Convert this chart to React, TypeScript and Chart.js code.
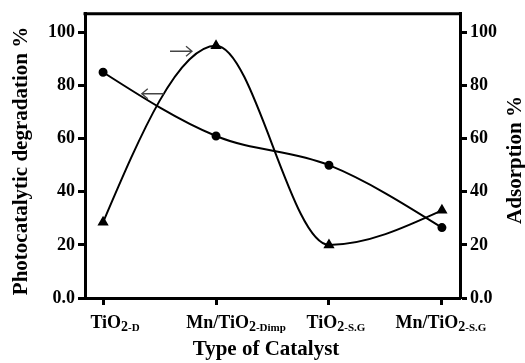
import React, { useEffect, useRef } from "react";
import { Chart, registerables } from "chart.js";

Chart.register(...registerables);

// ---- data ----
const categoryMain = ["TiO", "Mn/TiO", "TiO", "Mn/TiO"];
const categorySub = ["2", "2", "2", "2"];
const categorySuffix = ["-D", "-Dimp", "-S.G", "-S.G"];
const degradation = [85, 61, 50, 26.5];
const adsorption = [28.5, 95, 20, 33];
const yTicks = [0, 20, 40, 60, 80, 100];
const yTitleLeft = "Photocatalytic degradation %";
const yTitleRight = "Adsorption %";
const xTitle = "Type of Catalyst";
// arrow annotations (category units, value units)
const arrowRight = { x: 0.69, y: 92.9 };
const arrowLeft = { x: 0.44, y: 76.9 };

const FONT = "'Liberation Serif', 'Times New Roman', serif";

// Smooth spline: monotone tangents inside, natural-like end tangents
const splinePlugin = {
  id: "spline",
  beforeDatasetsDraw(chart: any) {
    chart.data.datasets.forEach((_: any, di: number) => {
      const meta = chart.getDatasetMeta(di);
      const pts = meta.data;
      const n = pts.length;
      if (n < 3) return;
      const d: number[] = [];
      for (let k = 0; k < n - 1; k++) {
        d.push((pts[k + 1].y - pts[k].y) / (pts[k + 1].x - pts[k].x));
      }
      const m: number[] = new Array(n).fill(0);
      for (let k = 1; k < n - 1; k++) {
        if (d[k - 1] * d[k] <= 0) m[k] = 0;
        else {
          m[k] = (d[k - 1] + d[k]) / 2;
          const a = m[k] / d[k - 1];
          const b = m[k] / d[k];
          const s = a * a + b * b;
          if (s > 9) m[k] *= 3 / Math.sqrt(s);
        }
      }
      m[0] = 1.5 * d[0] - 0.5 * m[1];
      if (m[0] * d[0] < 0) m[0] = 0;
      m[n - 1] = 1.5 * d[n - 2] - 0.5 * m[n - 2];
      if (m[n - 1] * d[n - 2] < 0) m[n - 1] = 0;
      for (let k = 0; k < n; k++) {
        const p = pts[k];
        if (k > 0) {
          const h = (p.x - pts[k - 1].x) / 3;
          p.cp1x = p.x - h;
          p.cp1y = p.y - m[k] * h;
        } else {
          p.cp1x = p.x;
          p.cp1y = p.y;
        }
        if (k < n - 1) {
          const h = (pts[k + 1].x - p.x) / 3;
          p.cp2x = p.x + h;
          p.cp2y = p.y + m[k] * h;
        } else {
          p.cp2x = p.x;
          p.cp2y = p.y;
        }
      }
      if (meta.dataset) meta.dataset._pointsUpdated = true;
    });
  },
};

const decorPlugin = {
  id: "decor",
  afterDraw(chart: any) {
    const ctx = chart.ctx as CanvasRenderingContext2D;
    const { chartArea } = chart;
    const xs = chart.scales.x;
    const ys = chart.scales.y;
    ctx.save();
    // top border
    ctx.strokeStyle = "#000";
    ctx.lineWidth = 3;
    ctx.beginPath();
    ctx.moveTo(chartArea.left - 1.5, chartArea.top);
    ctx.lineTo(chartArea.right + 1.5, chartArea.top);
    ctx.stroke();

    // x category labels with subscripts
    const offsets = [12, 20, 7, -1];
    ctx.fillStyle = "#000";
    ctx.textBaseline = "alphabetic";
    ctx.textAlign = "left";
    categoryMain.forEach((mTxt, i) => {
      const fMain = `bold 18px ${FONT}`;
      const fSub = `bold 14px ${FONT}`;
      const fSuf = `bold 11px ${FONT}`;
      ctx.font = fMain;
      const w1 = ctx.measureText(mTxt).width;
      ctx.font = fSub;
      const w2 = ctx.measureText(categorySub[i]).width;
      ctx.font = fSuf;
      const w3 = ctx.measureText(categorySuffix[i]).width;
      const total = w1 + w2 + w3;
      const cx = xs.getPixelForValue(i) + offsets[i];
      let x = cx - total / 2;
      const base = 328;
      ctx.font = fMain;
      ctx.fillText(mTxt, x, base);
      x += w1;
      ctx.font = fSub;
      ctx.fillText(categorySub[i], x, base + 3);
      x += w2;
      ctx.font = fSuf;
      ctx.fillText(categorySuffix[i], x, base + 3);
    });

    // axis titles
    ctx.font = `bold 21px ${FONT}`;
    ctx.textAlign = "center";
    ctx.textBaseline = "middle";
    ctx.fillText(xTitle, 266, 350);
    ctx.save();
    ctx.translate(22, 161);
    ctx.rotate(-Math.PI / 2);
    ctx.fillText(yTitleLeft, 0, 0);
    ctx.restore();
    ctx.save();
    ctx.translate(516, 160);
    ctx.rotate(-Math.PI / 2);
    ctx.fillText(yTitleRight, 0, 0);
    ctx.restore();

    // arrows
    const drawArrow = (a: { x: number; y: number }, dir: number) => {
      const px = xs.getPixelForValue(a.x);
      const py = ys.getPixelForValue(a.y);
      const half = 11;
      ctx.strokeStyle = "#444";
      ctx.lineWidth = 1.3;
      ctx.beginPath();
      ctx.moveTo(px - half, py);
      ctx.lineTo(px + half, py);
      const tip = px + dir * half;
      ctx.moveTo(tip - dir * 6, py - 5);
      ctx.lineTo(tip, py);
      ctx.lineTo(tip - dir * 6, py + 5);
      ctx.stroke();
    };
    drawArrow(arrowRight, 1);
    drawArrow(arrowLeft, -1);
    ctx.restore();
  },
};

export default function App() {
  const ref = useRef<HTMLCanvasElement>(null);
  useEffect(() => {
    if (!ref.current) return;
    const tickFont = { family: FONT, size: 18, weight: "bold" as const };
    const yTickCb = (v: any) => (v === 0 ? "0.0" : String(v));
    const filterTicks = (s: any) => {
      s.ticks = yTicks.map((v) => ({ value: v }));
    };
    const gridOpts = {
      display: true,
      drawOnChartArea: false,
      drawTicks: true,
      tickLength: 7,
      tickWidth: 3,
      color: "#000",
    };
    const chart = new Chart(ref.current, {
      type: "line",
      data: {
        datasets: [
          {
            label: "Degradation",
            data: degradation.map((y, i) => ({ x: i, y })),
            yAxisID: "y",
            borderColor: "#000",
            backgroundColor: "#000",
            borderWidth: 2,
            pointStyle: "circle",
            pointRadius: 3.5,
            tension: 0.4,
          },
          {
            label: "Adsorption",
            data: adsorption.map((y, i) => ({ x: i, y })),
            yAxisID: "y1",
            borderColor: "#000",
            backgroundColor: "#000",
            borderWidth: 2,
            pointStyle: "triangle",
            pointRadius: 4.5,
            tension: 0.4,
          },
        ],
      },
      options: {
        responsive: false,
        animation: false,
        layout: { padding: { top: 11, left: 0, right: 0, bottom: 0 } },
        plugins: { legend: { display: false }, tooltip: { enabled: false } },
        scales: {
          x: {
            type: "linear",
            min: -0.16,
            max: 3.16,
            afterBuildTicks: (s: any) => {
              s.ticks = categoryMain.map((_, i) => ({ value: i }));
            },
            afterFit: (s: any) => {
              s.height = 65;
            },
            ticks: { display: false },
            grid: gridOpts,
            border: { display: true, color: "#000", width: 3 },
          },
          y: {
            position: "left",
            min: 0,
            max: 107,
            afterBuildTicks: filterTicks,
            afterFit: (s: any) => {
              s.width = 85;
            },
            ticks: { font: tickFont, color: "#000", callback: yTickCb, padding: 3 },
            grid: gridOpts,
            border: { display: true, color: "#000", width: 3 },
          },
          y1: {
            position: "right",
            min: 0,
            max: 107,
            afterBuildTicks: filterTicks,
            afterFit: (s: any) => {
              s.width = 65;
            },
            ticks: { font: tickFont, color: "#000", callback: yTickCb, padding: 3 },
            grid: gridOpts,
            border: { display: true, color: "#000", width: 3 },
          },
        },
      } as any,
      plugins: [splinePlugin, decorPlugin],
    });
    return () => chart.destroy();
  }, []);
  return (
    <canvas
      ref={ref}
      width={525}
      height={363}
      style={{ position: "absolute", left: 0, top: 0, width: 525, height: 363, background: "#fff" }}
    />
  );
}
